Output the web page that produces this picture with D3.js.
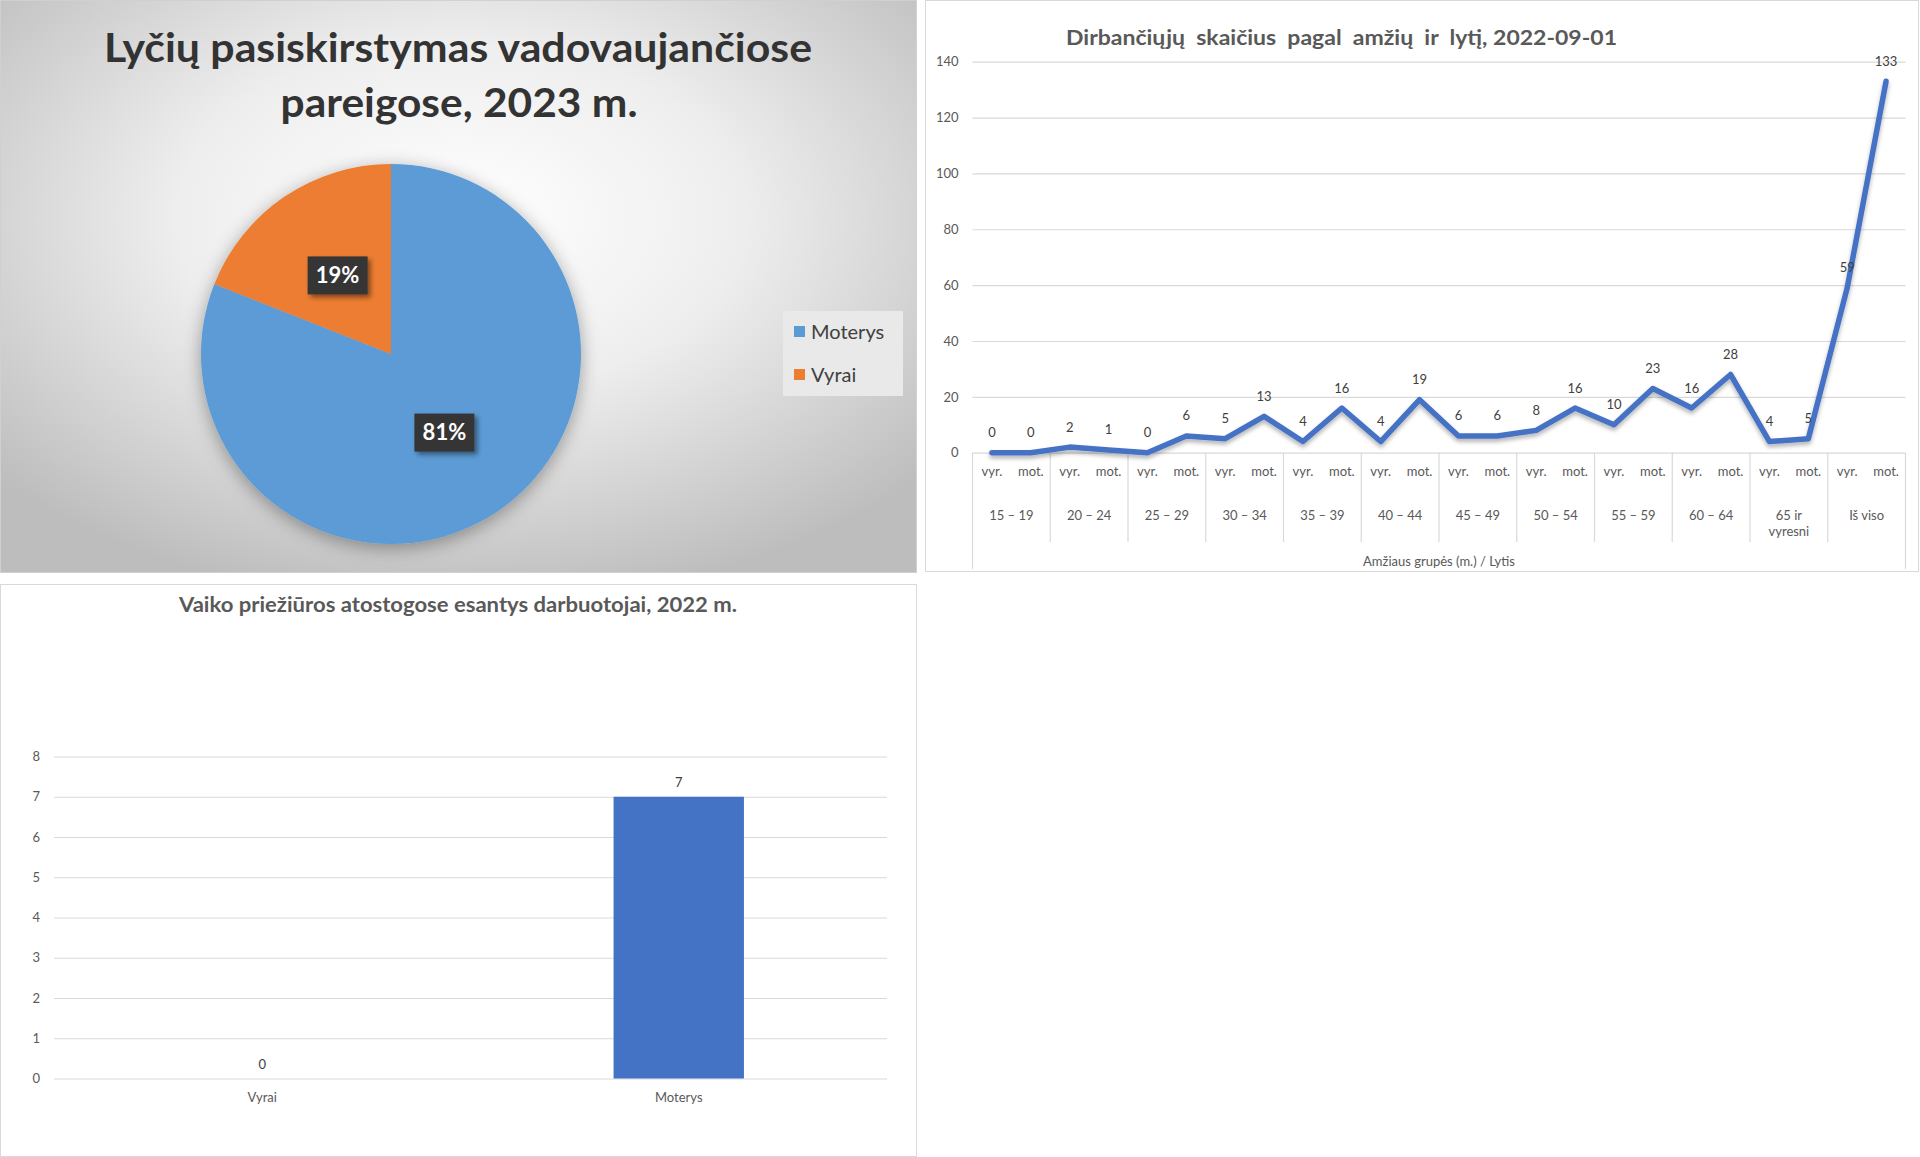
<!DOCTYPE html>
<html>
<head>
<meta charset="utf-8">
<script src="https://cdn.jsdelivr.net/npm/d3@7/dist/d3.min.js"></script>
<style>
  html, body { margin: 0; padding: 0; background: #ffffff; }
  svg { display: block; font-family: Lato, "Open Sans", "Noto Sans", sans-serif; }
</style>
</head>
<body>
<svg id="chart" width="1920" height="1157"></svg>
<script>
// ---------- DATA ----------
const pieTitle = ["Lyčių pasiskirstymas vadovaujančiose", "pareigose, 2023 m."];
const pieCategories = ["Moterys", "Vyrai"];
const pieValues = [81, 19];

const lineTitle = "Dirbančiųjų  skaičius  pagal  amžių  ir  lytį, 2022-09-01";
const ageGroups = ["15 – 19", "20 – 24", "25 – 29", "30 – 34", "35 – 39", "40 – 44", "45 – 49", "50 – 54", "55 – 59", "60 – 64", "65 ir\nvyresni", "Iš viso"];
const sexLabels = ["vyr.", "mot."];
const menValues = [0, 2, 0, 5, 4, 4, 6, 8, 10, 16, 4, 59];
const womenValues = [0, 1, 6, 13, 16, 19, 6, 16, 23, 28, 5, 133];
const lineTicks = [0, 20, 40, 60, 80, 100, 120, 140];
const lineAxisTitle = "Amžiaus grupės (m.) / Lytis";

const barTitle = "Vaiko priežiūros atostogose esantys darbuotojai, 2022 m.";
const barCategories = ["Vyrai", "Moterys"];
const barValues = [0, 7];
const barTicks = [0, 1, 2, 3, 4, 5, 6, 7, 8];

// ---------- SETUP ----------
const svg = d3.select("#chart");
const defs = svg.append("defs");

const bg = defs.append("radialGradient").attr("id", "pieBg")
  .attr("cx", "50%").attr("cy", "38%").attr("r", "68%");
bg.append("stop").attr("offset", "0").attr("stop-color", "#ffffff");
bg.append("stop").attr("offset", "0.45").attr("stop-color", "#eeeeee");
bg.append("stop").attr("offset", "1").attr("stop-color", "#bdbdbd");

const sh = defs.append("filter").attr("id", "pieShadow")
  .attr("x", "-30%").attr("y", "-30%").attr("width", "160%").attr("height", "160%");
sh.append("feDropShadow").attr("dx", 0).attr("dy", 4).attr("stdDeviation", 9)
  .attr("flood-color", "#000").attr("flood-opacity", 0.35);

const boxSh = defs.append("filter").attr("id", "boxShadow")
  .attr("x", "-30%").attr("y", "-30%").attr("width", "170%").attr("height", "170%");
boxSh.append("feDropShadow").attr("dx", 3).attr("dy", 3).attr("stdDeviation", 2.5)
  .attr("flood-color", "#000").attr("flood-opacity", 0.45);

const lineSh = defs.append("filter").attr("id", "lineShadow")
  .attr("x", "-10%").attr("y", "-10%").attr("width", "120%").attr("height", "120%");
lineSh.append("feDropShadow").attr("dx", 0).attr("dy", 3).attr("stdDeviation", 2)
  .attr("flood-color", "#000").attr("flood-opacity", 0.3);

// ---------- PANEL 1 : PIE ----------
svg.append("rect").attr("x", 0.5).attr("y", 0.5).attr("width", 916).attr("height", 572)
  .attr("fill", "url(#pieBg)").attr("stroke", "#d0d0d0");

const pt = svg.append("g");
pt.append("text").attr("x", 458).attr("y", 62).attr("text-anchor", "middle")
  .attr("font-size", 40).attr("font-weight", 700).attr("fill", "#333333")
  .attr("textLength", 708).attr("lengthAdjust", "spacingAndGlyphs").text(pieTitle[0]);
pt.append("text").attr("x", 459).attr("y", 117).attr("text-anchor", "middle")
  .attr("font-size", 40).attr("font-weight", 700).attr("fill", "#333333")
  .attr("textLength", 357).attr("lengthAdjust", "spacingAndGlyphs").text(pieTitle[1]);

const pieColor = d3.scaleOrdinal().domain(pieCategories).range(["#5B9BD5", "#ED7D31"]);
const pieGen = d3.pie().sort(null).value(d => d.v);
const pieData = pieGen(pieCategories.map((c, i) => ({ c, v: pieValues[i] })));
const R = 190;
const arc = d3.arc().innerRadius(0).outerRadius(R);
const pieG = svg.append("g").attr("transform", "translate(391,354)");
pieG.append("g").attr("filter", "url(#pieShadow)")
  .selectAll("path").data(pieData).join("path")
  .attr("d", arc).attr("fill", d => pieColor(d.data.c));

const lblArc = d3.arc().innerRadius(0).outerRadius(R * 1.0);
const pl = pieG.selectAll("g.lbl").data(pieData).join("g").attr("class", "lbl")
  .attr("transform", d => { const c = lblArc.centroid(d); return `translate(${c[0]},${c[1]})`; });
pl.append("rect").attr("x", -30).attr("y", -19).attr("width", 60).attr("height", 38)
  .attr("fill", "#363636").attr("filter", "url(#boxShadow)");
pl.append("text").attr("text-anchor", "middle").attr("dy", "0.36em")
  .attr("font-size", 22).attr("font-weight", 700).attr("fill", "#ffffff")
  .text(d => d.data.v + "%");

// legend
const lg = svg.append("g");
lg.append("rect").attr("x", 783).attr("y", 311).attr("width", 120).attr("height", 85)
  .attr("fill", "#e9e9e9");
const lgItems = lg.selectAll("g.li").data(pieCategories).join("g").attr("class", "li")
  .attr("transform", (d, i) => `translate(794,${332 + i * 43})`);
lgItems.append("rect").attr("x", 0).attr("y", -6).attr("width", 11).attr("height", 11)
  .attr("fill", d => pieColor(d));
lgItems.append("text").attr("x", 17).attr("dy", "0.35em").attr("font-size", 20)
  .attr("fill", "#404040").text(d => d);

// ---------- PANEL 2 : LINE ----------
svg.append("rect").attr("x", 925.5).attr("y", 0.5).attr("width", 993).attr("height", 571)
  .attr("fill", "#ffffff").attr("stroke", "#d9d9d9");

svg.append("text").attr("x", 1341.5).attr("y", 45).attr("text-anchor", "middle")
  .style("white-space", "pre")
  .attr("font-size", 21).attr("font-weight", 700).attr("fill", "#595959")
  .attr("textLength", 551).attr("lengthAdjust", "spacingAndGlyphs").text(lineTitle);

const points = [];
ageGroups.forEach((g, gi) => {
  points.push({ key: gi + "v", group: gi, sex: 0, v: menValues[gi] });
  points.push({ key: gi + "m", group: gi, sex: 1, v: womenValues[gi] });
});
const lx0 = 972.5, lx1 = 1905.5;
const xPt = d3.scaleBand().domain(points.map(d => d.key)).range([lx0, lx1]).padding(0);
const xGrp = d3.scaleBand().domain(ageGroups).range([lx0, lx1]).padding(0);
const yL = d3.scaleLinear().domain([0, 140]).range([452.7, 61.7]);

const yAxisL = svg.append("g").attr("transform", `translate(${lx0},0)`)
  .call(d3.axisLeft(yL).tickValues(lineTicks).tickSize(-(lx1 - lx0)).tickPadding(14));
yAxisL.select(".domain").remove();
yAxisL.selectAll("line").attr("stroke", "#d9d9d9").attr("stroke-width", 1.2);
yAxisL.selectAll("text").attr("font-size", 13).attr("fill", "#595959")
  .attr("font-family", "Lato, 'Open Sans', sans-serif");

// category dividers
const divs = d3.range(ageGroups.length + 1);
svg.append("g").selectAll("line").data(divs).join("line")
  .attr("x1", i => i < ageGroups.length ? xGrp(ageGroups[i]) : lx1)
  .attr("x2", i => i < ageGroups.length ? xGrp(ageGroups[i]) : lx1)
  .attr("y1", yL(0))
  .attr("y2", i => (i === 0 || i === ageGroups.length) ? 569 : 542)
  .attr("stroke", "#d9d9d9").attr("stroke-width", 1.2);

svg.append("g").selectAll("text").data(points).join("text")
  .attr("x", d => xPt(d.key) + xPt.bandwidth() / 2).attr("y", 471.5).attr("dy", "0.35em")
  .attr("text-anchor", "middle").attr("font-size", 13).attr("fill", "#595959")
  .text(d => sexLabels[d.sex]);

const grpT = svg.append("g").selectAll("text").data(ageGroups).join("text")
  .attr("x", d => xGrp(d) + xGrp.bandwidth() / 2).attr("y", 515).attr("dy", "0.35em")
  .attr("text-anchor", "middle").attr("font-size", 13).attr("fill", "#595959");
grpT.each(function (d) {
  const parts = d.split("\n");
  const t = d3.select(this);
  parts.forEach((p, i) => {
    t.append("tspan").attr("x", xGrp(d) + xGrp.bandwidth() / 2)
      .attr("dy", i === 0 ? "0.35em" : "1.25em").text(p);
  });
});

svg.append("text").attr("x", (lx0 + lx1) / 2).attr("y", 561).attr("dy", "0.35em")
  .attr("text-anchor", "middle").attr("font-size", 13).attr("fill", "#595959")
  .text(lineAxisTitle);

const lineGen = d3.line().x(d => xPt(d.key) + xPt.bandwidth() / 2).y(d => yL(d.v));
svg.append("path").datum(points).attr("d", lineGen).attr("fill", "none")
  .attr("stroke", "#4472C4").attr("stroke-width", 5.5).attr("stroke-linejoin", "round")
  .attr("stroke-linecap", "round").attr("filter", "url(#lineShadow)");

svg.append("g").selectAll("text").data(points).join("text")
  .attr("x", d => xPt(d.key) + xPt.bandwidth() / 2).attr("y", d => yL(d.v) - 20)
  .attr("dy", "0.35em").attr("text-anchor", "middle").attr("font-size", 13)
  .attr("fill", "#404040").text(d => d.v);

// ---------- PANEL 3 : BAR ----------
svg.append("rect").attr("x", 0.5).attr("y", 584.5).attr("width", 916).attr("height", 572)
  .attr("fill", "#ffffff").attr("stroke", "#d9d9d9");

svg.append("text").attr("x", 458).attr("y", 612).attr("text-anchor", "middle")
  .attr("font-size", 20).attr("font-weight", 700).attr("fill", "#595959")
  .attr("textLength", 558).attr("lengthAdjust", "spacingAndGlyphs").text(barTitle);

const bx0 = 54, bx1 = 887;
const xB = d3.scaleBand().domain(barCategories).range([bx0, bx1])
  .paddingInner(0.687).paddingOuter(0.3435);
const yB = d3.scaleLinear().domain([0, 8]).range([1078.5, 756.5]);

const yAxisB = svg.append("g").attr("transform", `translate(${bx0},0)`)
  .call(d3.axisLeft(yB).tickValues(barTicks).tickSize(-(bx1 - bx0)).tickPadding(14));
yAxisB.select(".domain").remove();
yAxisB.selectAll("line").attr("stroke", "#d9d9d9").attr("stroke-width", 1.2);
yAxisB.selectAll("text").attr("font-size", 13).attr("fill", "#595959")
  .attr("font-family", "Lato, 'Open Sans', sans-serif");

svg.append("g").selectAll("rect").data(barCategories).join("rect")
  .attr("x", (d) => xB(d)).attr("width", xB.bandwidth())
  .attr("y", (d, i) => yB(barValues[i])).attr("height", (d, i) => yB(0) - yB(barValues[i]))
  .attr("fill", "#4472C4");

svg.append("g").selectAll("text").data(barCategories).join("text")
  .attr("x", d => xB(d) + xB.bandwidth() / 2).attr("y", (d, i) => yB(barValues[i]) - 14.5)
  .attr("dy", "0.35em").attr("text-anchor", "middle").attr("font-size", 13)
  .attr("fill", "#404040").text((d, i) => barValues[i]);

svg.append("g").selectAll("text").data(barCategories).join("text")
  .attr("x", d => xB(d) + xB.bandwidth() / 2).attr("y", 1097).attr("dy", "0.35em")
  .attr("text-anchor", "middle").attr("font-size", 13).attr("fill", "#595959")
  .text(d => d);
</script>
</body>
</html>
